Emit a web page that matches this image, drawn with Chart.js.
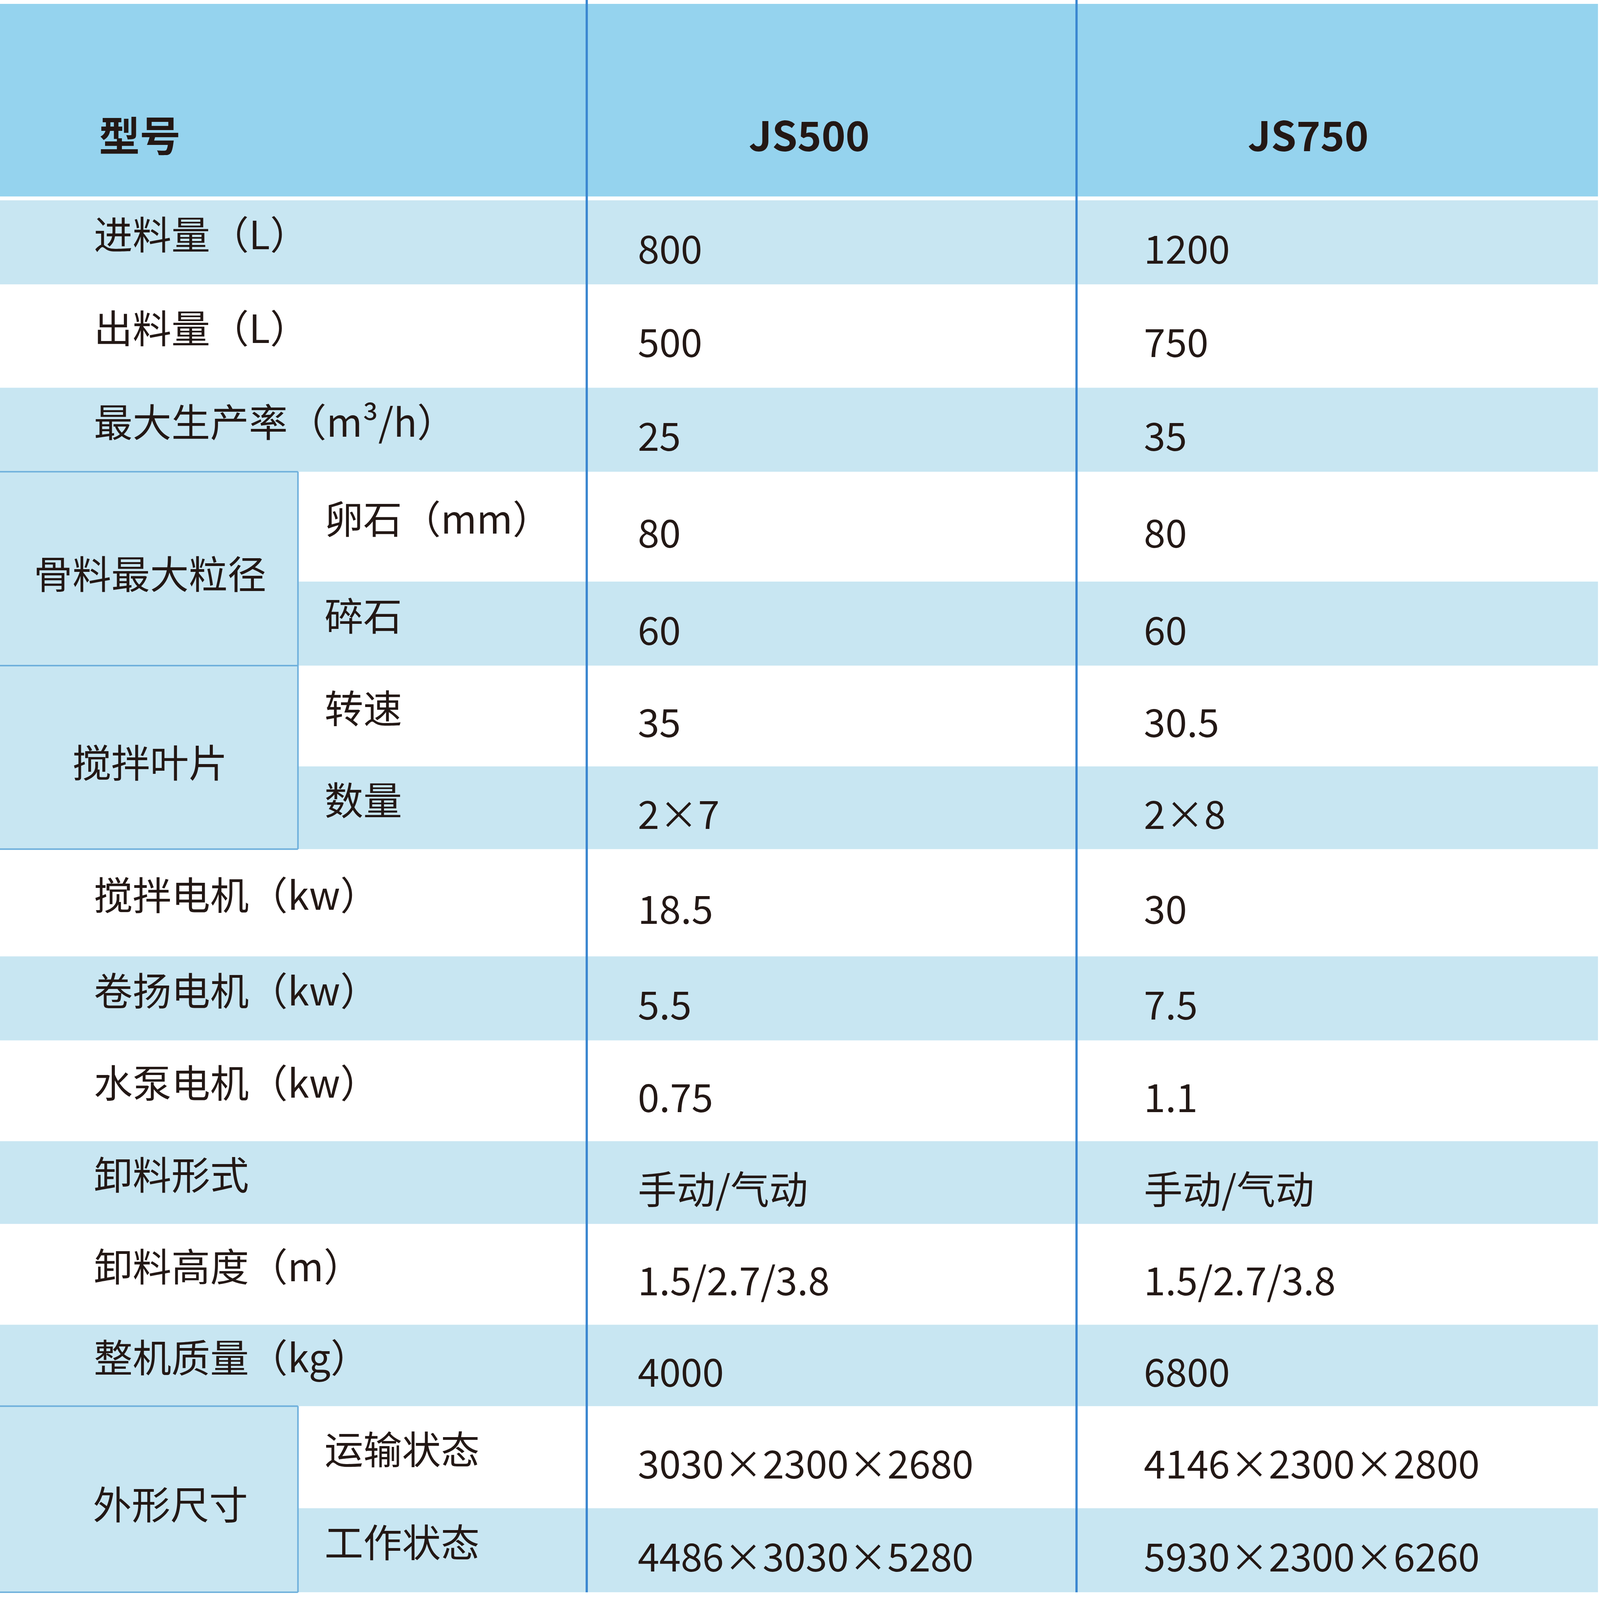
<!DOCTYPE html>
<html><head><meta charset="utf-8">
<script src="https://cdn.jsdelivr.net/npm/chart.js@4/dist/chart.umd.min.js"></script>
<style>html,body{margin:0;padding:0;background:#fff;overflow:hidden}#w{position:absolute;left:0;top:0;width:100vw;height:100vh}</style>
</head><body>
<div id="w"><canvas id="c"></canvas></div>
<script>
// data
const headers = ["型号", "JS500", "JS750"];
const groupLabels = [
  {text:"骨料最大粒径", from:3, to:4},
  {text:"搅拌叶片", from:5, to:6},
  {text:"外形尺寸", from:13, to:14}
];
const rowLabels = ["进料量（L）","出料量（L）","最大生产率（m³/h）","卵石（mm）","碎石","转速","数量",
  "搅拌电机（kw）","卷扬电机（kw）","水泵电机（kw）","卸料形式","卸料高度（m）","整机质量（kg）","运输状态","工作状态"];
const subRows = [3,4,5,6,13,14];
const js500 = ["800","500","25","80","60","35","2×7","18.5","5.5","0.75","手动/气动","1.5/2.7/3.8","4000","3030×2300×2680","4486×3030×5280"];
const js750 = ["1200","750","35","80","60","30.5","2×8","30","7.5","1.1","手动/气动","1.5/2.7/3.8","6800","4146×2300×2800","5930×2300×6260"];
// layout (reference units)
const colEdges = [0,292,575,1055,1566];
const rowEdges = [155,220,300,365,450,515,593,657,740,805,883,947,1025,1088,1167,1232];
const headerBox = [3,152];
const FONT = '"Noto Sans CJK SC","Noto Sans",sans-serif';

const tablePlugin = {
  id:'table',
  beforeDatasetsDraw(chart){
    const ctx = chart.ctx, X = v=>chart.scales.x.getPixelForValue(v), Y = v=>chart.scales.y.getPixelForValue(v);
    const k = X(1)-X(0);
    const rect=(x0,y0,x1,y1,c)=>{ctx.fillStyle=c;ctx.fillRect(X(x0),Y(y0),X(x1)-X(x0),Y(y1)-Y(y0));};
    const line=(x0,y0,x1,y1,c,w)=>{ctx.strokeStyle=c;ctx.lineWidth=w*k;ctx.beginPath();ctx.moveTo(X(x0),Y(y0));ctx.lineTo(X(x1),Y(y1));ctx.stroke();};
    const blue='#c8e6f2';
    rect(colEdges[0],headerBox[0],colEdges[4],headerBox[1],'#95d3ee');
    for(let i=0;i<rowLabels.length;i++){
      if(i%2===0) rect(colEdges[0],rowEdges[i],colEdges[4],rowEdges[i+1],blue);
    }
    groupLabels.forEach(g=>rect(colEdges[0],rowEdges[g.from],colEdges[1],rowEdges[g.to+1],blue));
    const lc='#3a86d0';
    line(colEdges[2],0,colEdges[2],rowEdges[15],lc,2.2);
    line(colEdges[3],0,colEdges[3],rowEdges[15],lc,2.2);
    groupLabels.forEach(g=>{
      line(colEdges[1],rowEdges[g.from],colEdges[1],rowEdges[g.to+1],'#6fb0dc',1.5);
      line(colEdges[0],rowEdges[g.from],colEdges[1],rowEdges[g.from],'#6fb0dc',1.5);
      line(colEdges[0],rowEdges[g.to+1],colEdges[1],rowEdges[g.to+1],'#6fb0dc',1.5);
    });
    ctx.textBaseline='middle';
    ctx.fillStyle='#231815';
    ctx.font='bold '+(40*k)+'px '+FONT;
    ctx.textAlign='left'; ctx.fillText(headers[0],X(97),Y(105));
    ctx.textAlign='center';
    ctx.fillText(headers[1],X(793),Y(105));
    ctx.fillText(headers[2],X(1282),Y(105));
    ctx.font=(38*k)+'px '+FONT;
    for(let i=0;i<rowLabels.length;i++){
      const c=(rowEdges[i]+rowEdges[i+1])/2;
      ctx.textAlign='left';
      ctx.fillText(rowLabels[i],X(subRows.includes(i)?318:92),Y(c-6));
      ctx.fillText(js500[i],X(625),Y(c+5));
      ctx.fillText(js750[i],X(1121),Y(c+5));
    }
    ctx.textAlign='center';
    groupLabels.forEach((g,j)=>{
      const c=(rowEdges[g.from]+rowEdges[g.to+1])/2;
      ctx.fillText(g.text,X(j===2?167:147),Y(c+4));
    });
  }
};
new Chart(document.getElementById('c'),{
  type:'scatter',
  data:{datasets:[{data:[]}]},
  options:{responsive:true,maintainAspectRatio:false,animation:false,
    layout:{padding:0},
    plugins:{legend:{display:false},tooltip:{enabled:false}},
    scales:{
      x:{type:'linear',min:0,max:1568,display:false},
      y:{type:'linear',min:0,max:1238,reverse:true,display:false}
    }},
  plugins:[tablePlugin]
});
</script>
</body></html>
